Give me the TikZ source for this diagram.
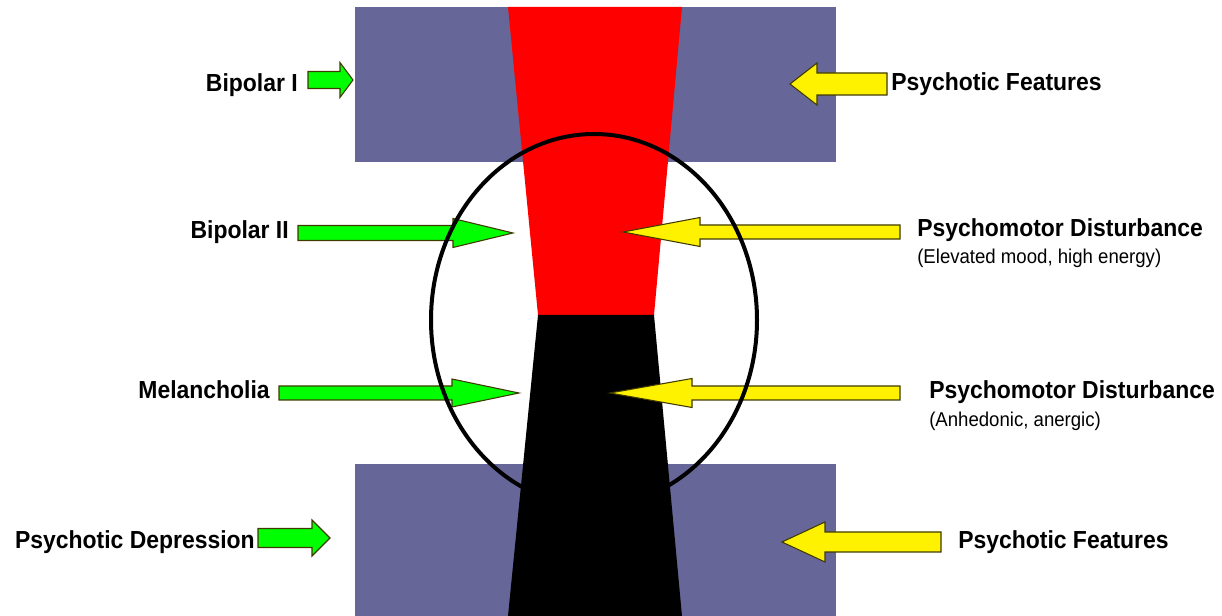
\documentclass[tikz,border=0pt]{standalone}
\usepackage{fontspec}
\setmainfont{Liberation Sans}
\newfontfamily\narrowfont{Liberation Sans}[FakeStretch=0.93]
\definecolor{slate}{HTML}{666699}
\definecolor{olive}{HTML}{403A00}
\newcommand\blk[7]{%
  \filldraw[arrowline, fill=#1] ({#2},{#5-#6}) -- ({#3},{#5-#6}) -- ({#3},{#5-#7}) -- ({#4},{#5}) -- ({#3},{#5+#7}) -- ({#3},{#5+#6}) -- ({#2},{#5+#6}) -- cycle;}
\tikzset{
  arrowline/.style={draw=olive, line width=0.8pt, line join=miter},
  lbl/.style={inner sep=0pt, font=\narrowfont\fontsize{18.5}{21}\selectfont\bfseries},
  sub/.style={inner sep=0pt, font=\narrowfont\fontsize{15}{17}\selectfont},
}
\begin{document}
\begin{tikzpicture}[x=0.75pt, y=-0.75pt]
\useasboundingbox (0,0) rectangle (1222,616);
% purple bands
\fill[slate] (355,7) rectangle (836,162);
\fill[slate] (355,464) rectangle (836,616);
% red and black trapezoids
\fill[red] (508,7) -- (682,7) -- (654,315) -- (538,315) -- cycle;
\fill[black] (538,315) -- (654,315) -- (682,616) -- (508,616) -- cycle;
% arrows
\blk{green}{308}{340}{353}{80}{8.5}{17.5}
\blk{yellow}{887}{817}{790}{84}{11}{21}
\blk{green}{298}{453}{513}{233}{7.5}{14.5}
\blk{yellow}{900}{700}{623}{232}{7}{14.5}
\blk{green}{279}{452}{519}{393}{7}{14}
\blk{yellow}{900}{692}{610}{393}{7}{14.5}
\blk{green}{258}{312}{330}{538}{9.5}{18}
\blk{yellow}{941}{825}{782}{542}{10}{20}
% ellipse
\draw[line width=3pt] (594,320) ellipse [x radius=163, y radius=186];
% labels
\node[lbl, anchor=base east] (bip1) at (298,92) {Bipolar I};
\node[lbl, anchor=base west] (pf1) at (891,91) {Psychotic Features};
\node[lbl, anchor=base east] (bip2) at (289,239) {Bipolar II};
\node[lbl, anchor=base west] (pm1) at (917,237) {Psychomotor Disturbance};
\node[sub, anchor=base west] (pm1s) at (917,264) {(Elevated mood, high energy)};
\node[lbl, anchor=base east] (mel) at (270,399) {Melancholia};
\node[lbl, anchor=base west] (pm2) at (929,399) {Psychomotor Disturbance};
\node[sub, anchor=base west] (pm2s) at (929,427) {(Anhedonic, anergic)};
\node[lbl, anchor=base east] (pd) at (255,549) {Psychotic Depression};
\node[lbl, anchor=base west] (pf2) at (958,549) {Psychotic Features};
\end{tikzpicture}
\end{document}
